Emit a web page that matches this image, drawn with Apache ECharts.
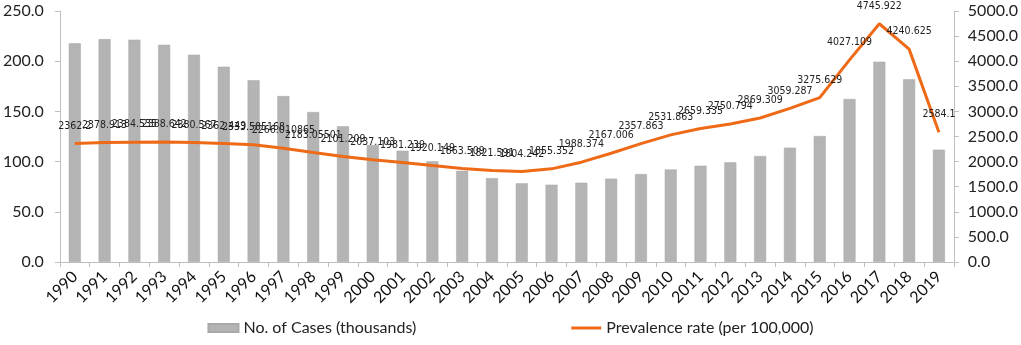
<!DOCTYPE html>
<html><head><meta charset="utf-8">
<script src="https://cdn.jsdelivr.net/npm/echarts@6/dist/echarts.min.js"></script>
<style>html,body{margin:0;padding:0;background:#fff}#c{width:1021px;height:345px}</style>
</head><body><div id="c"></div>
<script>
const years = ['1990','1991','1992','1993','1994','1995','1996','1997','1998','1999','2000','2001','2002','2003','2004','2005','2006','2007','2008','2009','2010','2011','2012','2013','2014','2015','2016','2017','2018','2019'];
const cases = [217.8,222.0,221.4,216.4,206.5,194.5,181.0,165.3,149.4,135.2,116.5,110.8,100.4,90.8,83.5,78.4,77.0,79.0,83.0,87.6,92.2,95.9,99.3,105.6,113.9,125.5,162.4,199.5,182.0,111.9];
const prevalence = [2362.2,2378.913,2384.535,2388.642,2380.567,2362.449,2333.585168,2266.010865,2183.05501,2101.209,2037.103,1981.239,1920.149,1863.509,1821.591,1804.242,1855.352,1988.374,2167.006,2357.863,2531.863,2659.335,2750.794,2869.309,3059.287,3275.629,4027.109,4745.922,4240.625,2584.1];
const leftTicks = [0,50,100,150,200,250];
const rightTicks = [0,500,1000,1500,2000,2500,3000,3500,4000,4500,5000];

const chart = echarts.init(document.getElementById('c'));
const axisFont = 'Lato, Noto Sans, sans-serif';
chart.setOption({
  animation:false,
  grid:{left:58,right:64,top:11,bottom:83,containLabel:false},
  legend:{
    bottom:4,left:'center',itemGap:155,itemWidth:30,itemHeight:8,
    textStyle:{fontFamily:axisFont,fontSize:16,color:'#222'},
    data:[{name:'No. of Cases (thousands)',icon:'rect'},
          {name:'Prevalence rate (per 100,000)',icon:'path://M0,0 L30,0 L30,3 L0,3 Z'}]
  },
  xAxis:{
    type:'category',data:years,boundaryGap:true,
    axisLine:{lineStyle:{color:'#bfbfbf',width:1}},
    axisTick:{show:true,alignWithLabel:false,length:5,lineStyle:{color:'#bfbfbf'}},
    axisLabel:{rotate:45,interval:0,fontFamily:axisFont,fontSize:16,color:'#111',margin:12}
  },
  yAxis:[
    {type:'value',min:leftTicks[0],max:leftTicks[leftTicks.length-1],interval:50,
     axisLine:{show:true,lineStyle:{color:'#bfbfbf'}},
     axisTick:{show:true,length:5,lineStyle:{color:'#bfbfbf'}},
     splitLine:{show:false},
     axisLabel:{fontFamily:axisFont,fontSize:16,color:'#222',margin:16,formatter:v=>v.toFixed(1)}},
    {type:'value',min:rightTicks[0],max:rightTicks[rightTicks.length-1],interval:500,position:'right',
     axisLine:{show:true,lineStyle:{color:'#bfbfbf'}},
     axisTick:{show:true,length:5,lineStyle:{color:'#bfbfbf'}},
     splitLine:{show:false},
     axisLabel:{fontFamily:axisFont,fontSize:16,color:'#222',margin:14,formatter:v=>v.toFixed(1)}}
  ],
  series:[
    {name:'No. of Cases (thousands)',type:'bar',data:cases,barWidth:12,yAxisIndex:0,
     itemStyle:{color:'#b4b4b4',borderColor:'#a8a8a8',borderWidth:0.5}},
    {name:'Prevalence rate (per 100,000)',type:'line',data:prevalence,yAxisIndex:1,
     symbol:'circle',symbolSize:0.1,showSymbol:true,smooth:false,z:5,
     lineStyle:{color:'#EE6A17',width:3},itemStyle:{color:'#EE6A17'},
     label:{show:true,position:'top',distance:12,fontFamily:'Liberation Sans Narrow, DejaVu Sans Condensed, Arial, sans-serif',fontSize:10.5,color:'#222',
       formatter:p=>String(prevalence[p.dataIndex])},
     labelLayout:{hideOverlap:false}}
  ]
});
</script></body></html>
